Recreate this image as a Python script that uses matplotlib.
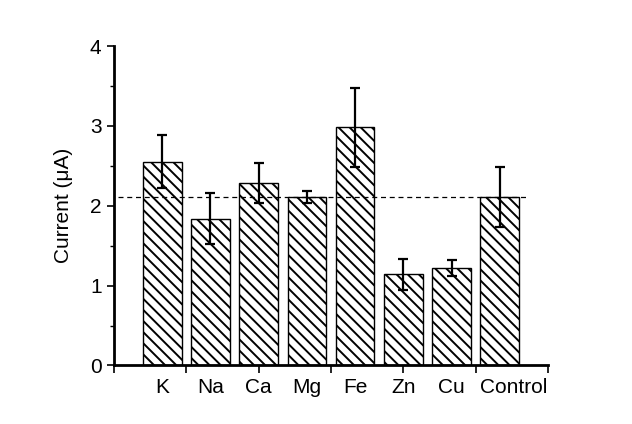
import numpy as np
import matplotlib.pyplot as plt
import matplotlib.transforms as mtransforms
from matplotlib.ticker import MultipleLocator

plt.rcParams['font.family'] = ['Liberation Sans', 'DejaVu Sans']
plt.rcParams['hatch.linewidth'] = 1.4

# Data
labels = ['K', 'Na', 'Ca', 'Mg', 'Fe', 'Zn', 'Cu', 'Control']
current = [2.55, 1.84, 2.28, 2.11, 2.98, 1.14, 1.22, 2.11]
err = [0.33, 0.32, 0.25, 0.08, 0.50, 0.19, 0.10, 0.38]

x = np.arange(1, len(labels) + 1)

fig = plt.figure(figsize=(6.32, 4.24), dpi=100)
ax = fig.add_axes([0.1804, 0.138, 0.6866, 0.7535])

ax.bar(x, current, width=0.8, color='white', edgecolor='black', linewidth=1.0,
       hatch='\\\\\\')
ax.errorbar(x, current, yerr=err, fmt='none', ecolor='black', elinewidth=1.6,
            capsize=3.5, capthick=1.6)

# reference line at control level
ax.axhline(current[-1], xmin=0.01, xmax=0.952, color='black', lw=0.9,
           ls=(0, (4, 3)))

ax.set_xlim(0, 9)
ax.set_ylim(0, 4)

ax.xaxis.remove_overlapping_locs = False
ax.set_xticks(np.arange(0, 9.1, 1.5))
ax.set_xticklabels([])
ax.set_xticks(x, labels, minor=True)
ax.tick_params(axis='x', which='major', direction='out', length=6, width=1.2)
ax.tick_params(axis='x', which='minor', length=0, pad=9, labelsize=15)

# the "Control" label sits a little to the right in the original
last = ax.xaxis.get_minorticklabels()[-1]
last.set_transform(last.get_transform() +
                   mtransforms.ScaledTranslation(0.14, 0, fig.dpi_scale_trans))

ax.set_yticks([0, 1, 2, 3, 4])
ax.yaxis.set_minor_locator(MultipleLocator(0.5))
ax.tick_params(axis='y', which='major', direction='out', length=5, width=1.2,
               labelsize=15, pad=4)
ax.tick_params(axis='y', which='minor', direction='out', length=3, width=1.0)

for s in ['top', 'right']:
    ax.spines[s].set_visible(False)
for s in ['left', 'bottom']:
    ax.spines[s].set_linewidth(2)

ax.set_ylabel('Current (μA)', fontsize=15, labelpad=12)

fig.savefig('out.png', dpi=100)
